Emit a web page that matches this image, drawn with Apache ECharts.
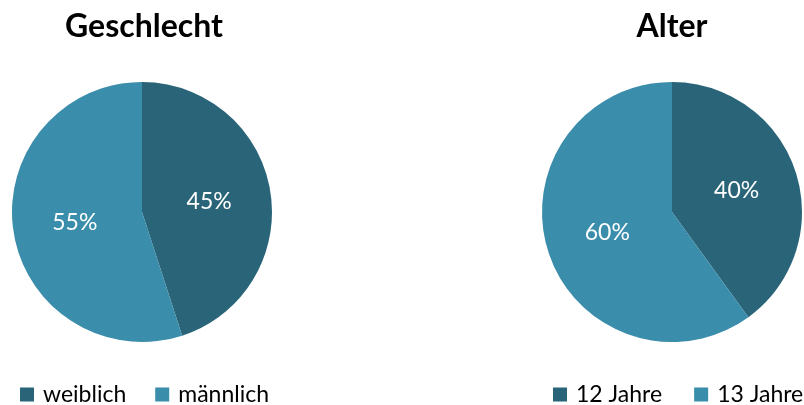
<!DOCTYPE html>
<html><head><meta charset="utf-8">
<script src="https://cdn.jsdelivr.net/npm/echarts@6/dist/echarts.min.js"></script>
<style>html,body{margin:0;padding:0;background:#fff}#c{width:804px;height:405px}</style>
</head><body><div id="c"></div>
<script>
const titles = ['Geschlecht', 'Alter'];
const catsLeft = ['weiblich', 'männlich'];
const valsLeft = [45, 55];
const catsRight = ['12 Jahre', '13 Jahre'];
const valsRight = [40, 60];
const colors = ['#296478', '#3a8dab'];
const FONT = 'Lato, "Open Sans", sans-serif';

const chart = echarts.init(document.getElementById('c'), null, {renderer: 'canvas'});
function pie(name, cats, vals, cx) {
  return {
    type: 'pie', name: name, center: [cx, 212], radius: [0, 130],
    startAngle: 90, clockwise: true, silent: true,
    label: {show: true, position: 'inside', formatter: '{c}%', color: '#fff',
            fontSize: 23, fontFamily: FONT, padding: [4, 0, 0, 0]},
    labelLine: {show: false},
    itemStyle: {borderWidth: 0},
    data: cats.map((c, i) => ({name: c, value: vals[i], itemStyle: {color: colors[i]}}))
  };
}
const legendText = {fontSize: 23, color: '#000', fontFamily: FONT, padding: [0, 0, 0, 4]};
chart.setOption({
  animation: false,
  title: [
    {text: titles[0], left: 139, top: 6, textAlign: 'center', textStyle: {fontSize: 32, fontWeight: 'bold', color: '#000', fontFamily: FONT}},
    {text: titles[1], left: 667, top: 6, textAlign: 'center', textStyle: {fontSize: 32, fontWeight: 'bold', color: '#000', fontFamily: FONT}}
  ],
  legend: [
    {data: catsLeft, left: 15, top: 378, width: 360, itemWidth: 14, itemHeight: 14, itemGap: 29, icon: 'rect', textStyle: legendText},
    {data: catsRight, left: 548, top: 378, width: 300, itemWidth: 14, itemHeight: 14, itemGap: 32, icon: 'rect', textStyle: legendText}
  ],
  series: [pie(titles[0], catsLeft, valsLeft, 142), pie(titles[1], catsRight, valsRight, 672)]
});
</script></body></html>
